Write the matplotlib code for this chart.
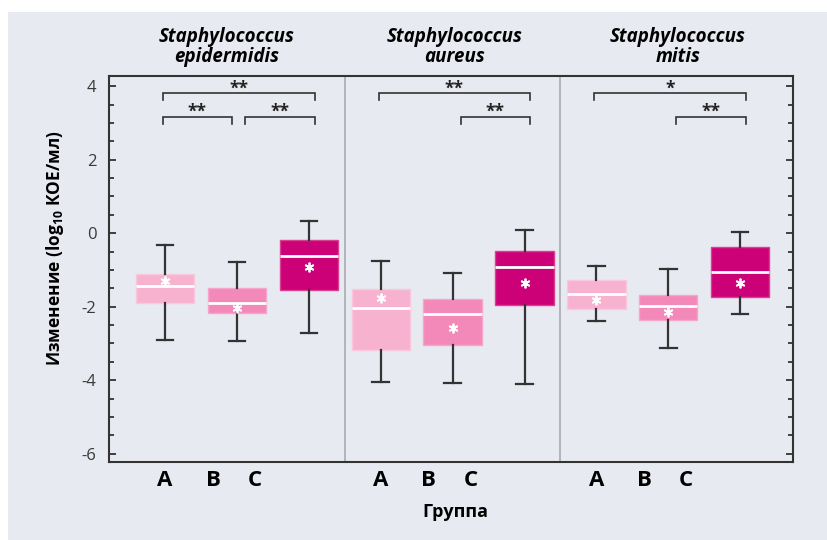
import numpy as np
import matplotlib.pyplot as plt
from matplotlib.patches import Rectangle
from matplotlib import transforms

plt.rcParams['font.family'] = ['Open Sans', 'DejaVu Sans']
plt.rcParams['mathtext.default'] = 'regular'

# species (panels) and groups
species = ['Staphylococcus\nepidermidis', 'Staphylococcus\naureus', 'Staphylococcus\nmitis']
groups = ['A', 'B', 'C']

# box statistics, order: epid A,B,C | aureus A,B,C | mitis A,B,C
whis_hi = [-0.33, -0.78, 0.34, -0.76, -1.07, 0.10, -0.90, -0.98, 0.04]
q3 = [-1.11, -1.48, -0.18, -1.53, -1.78, -0.48, -1.27, -1.69, -0.38]
median = [-1.45, -1.90, -0.62, -2.03, -2.19, -0.92, -1.65, -1.99, -1.05]
q1 = [-1.89, -2.18, -1.55, -3.18, -3.03, -1.96, -2.05, -2.36, -1.74]
whis_lo = [-2.91, -2.93, -2.72, -4.05, -4.09, -4.11, -2.39, -3.13, -2.19]
means = [-1.30, -2.04, -0.91, -1.76, -2.59, -1.35, -1.81, -2.15, -1.35]

# significance: (group i, group j, level, label) per species
signif = [
    [(0, 2, 'top', '**'), (0, 1, 'low', '**'), (1, 2, 'low', '**')],
    [(0, 2, 'top', '**'), (1, 2, 'low', '**')],
    [(0, 2, 'top', '*'), (1, 2, 'low', '**')],
]

colors = ['#f7b2cf', '#f289b8', '#cc0077']
edges = ['#f9c8dc', '#f6a6ca', '#d9408f']
bg = '#e8eaf1'
dark = '#333333'

fig = plt.figure(figsize=(8.27, 5.40), dpi=100)
fig.patch.set_facecolor('white')
fig.add_artist(Rectangle((8 / 827, 0), 1, (540 - 12) / 540, transform=fig.transFigure,
                         facecolor=bg, edgecolor='none', zorder=-10))

ax = fig.add_axes([109 / 827, 1 - 461.7 / 540, (793 - 109) / 827, (461.7 - 76) / 540])
ax.set_facecolor('none')

positions = [3 * g + i for g in range(3) for i in range(3)]
stats = []
for k in range(9):
    stats.append(dict(med=median[k], q1=q1[k], q3=q3[k], whislo=whis_lo[k],
                      whishi=whis_hi[k], mean=means[k], fliers=[]))

bp = ax.bxp(stats, positions=positions, widths=0.81, capwidths=0.23,
            patch_artist=True, showmeans=True,
            medianprops=dict(color='white', linewidth=2),
            whiskerprops=dict(color=dark, linewidth=1.6),
            capprops=dict(color=dark, linewidth=1.6),
            meanprops=dict(marker=(6, 2, 0), markersize=7, markeredgecolor='white',
                           markeredgewidth=1.3, markerfacecolor='white'))
for k, box in enumerate(bp['boxes']):
    box.set_facecolor(colors[k % 3])
    box.set_edgecolor(edges[k % 3])
    box.set_linewidth(1)

# separators between species
for xs in [2.5, 5.5]:
    ax.axvline(xs, color='#a9abb0', linewidth=1.2, zorder=0)

ax.set_xlim(-0.779, 8.734)
ax.set_ylim(-6.22, 4.28)
ax.set_xticks([])
ax.set_yticks(np.arange(-6, 5, 2))
ax.set_yticks(np.arange(-6, 4.5, 0.5), minor=True)
ax.set_yticklabels([str(v) for v in range(-6, 5, 2)])
ax.tick_params(axis='y', which='both', direction='in', left=True, right=True,
               color=dark, width=1.3, labelsize=12, labelcolor='#3a3a3a', pad=9)
ax.tick_params(axis='y', which='major', length=5)
ax.tick_params(axis='y', which='minor', length=3.5)
for sp in ax.spines.values():
    sp.set_color(dark)
    sp.set_linewidth(1.5)

# group letters under the boxes
label_offsets = [0, 0.67, 1.25]
for g in range(3):
    for i, lab in enumerate(groups):
        ax.text(3 * g + label_offsets[i], -0.049, lab, transform=ax.get_xaxis_transform(),
                ha='center', va='center', fontsize=16, fontweight='bold', color='black')

# species titles
title_x = [0.86, 4.03, 7.13]
trans = transforms.blended_transform_factory(ax.transData, fig.transFigure)
for g in range(3):
    ax.text(title_x[g], 1 - 47 / 540, species[g], transform=trans, ha='center', va='center',
            fontsize=13.5, fontweight='bold', fontstyle='italic', linespacing=1.05)

# significance brackets
levels = {'top': 3.82, 'low': 3.17}
for g in range(3):
    for i, j, lev, txt in signif[g]:
        x1 = 3 * g + i + (0.11 if i == 1 else -0.03)
        x2 = 3 * g + j + (-0.07 if j == 1 else 0.08)
        y = levels[lev]
        ax.plot([x1, x1, x2, x2], [y - 0.2, y, y, y - 0.2], color=dark, linewidth=1.2,
                solid_joinstyle='miter')
        ax.text((x1 + x2) / 2, y - 0.01, txt, ha='center', va='baseline', fontsize=12.5,
                fontweight='bold', color='#222222')

fig.text(55 / 827, 1 - 248 / 540, 'Изменение (log$_{10}$ КОЕ/мл)', rotation=90,
         ha='center', va='center', fontsize=12.5, fontweight='bold')
fig.text(455 / 827, 1 - 512 / 540, 'Группа', ha='center', va='center',
         fontsize=13, fontweight='bold')

fig.savefig('out.png', dpi=100)
